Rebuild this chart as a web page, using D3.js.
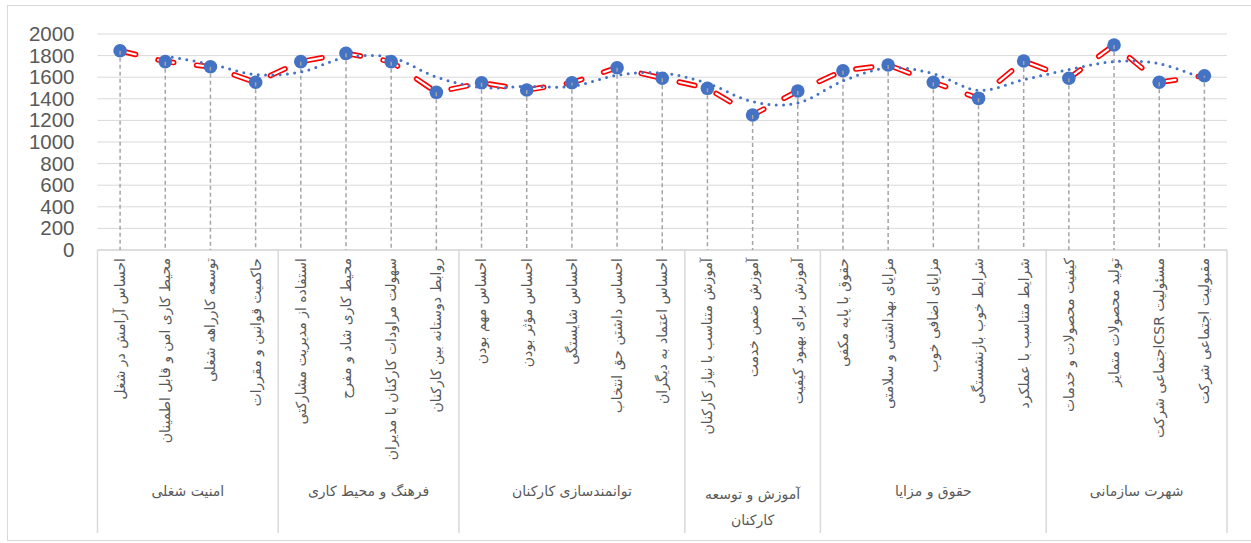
<!DOCTYPE html>
<html>
<head>
<meta charset="utf-8">
<script src="https://cdn.jsdelivr.net/npm/d3@7"></script>
<style>
  body { margin: 0; background: #fff; }
  svg { display: block; }
</style>
</head>
<body>
<div id="chart"></div>
<script>
// category groups (lower axis level) and how many items each holds
const groups = ['امنیت شغلی', 'فرهنگ و محیط کاری', 'توانمندسازی کارکنان', 'آموزش و توسعه\nکارکنان', 'حقوق و مزایا', 'شهرت سازمانی'];
const groupSizes = [4, 4, 5, 3, 5, 4];

const categories = [
  'احساس آرامش در شغل', 'محیط کاری امن و قابل اطمینان', 'توسعه کارراهه شغلی', 'حاکمیت قوانین و مقررات',
  'استفاده از مدیریت مشارکتی', 'محیط کاری شاد و مفرح', 'سهولت مراودات کارکنان با مدیران', 'روابط دوستانه بین کارکنان',
  'احساس مهم بودن', 'احساس مؤثر بودن', 'احساس شایستگی', 'احساس داشتن حق انتخاب', 'احساس اعتماد به دیگران',
  'آموزش متناسب با نیاز کارکنان', 'آموزش ضمن خدمت', 'آموزش برای بهبود کیفیت',
  'حقوق با پایه مکفی', 'مزایای بهداشتی و سلامتی', 'مزایای اضافی خوب', 'شرایط خوب بازنشستگی', 'شرایط متناسب با عملکرد',
  'کیفیت محصولات و خدمات', 'تولید محصولات متمایز', 'مسئولیت  CSRاجتماعی شرکت', 'مقبولیت اجتماعی شرکت'
];

const values = [
  1845, 1744, 1697, 1553,
  1744, 1821, 1744, 1460,
  1549, 1481, 1549, 1688, 1590,
  1497, 1250, 1472,
  1660, 1713, 1553, 1404, 1750,
  1590, 1898, 1553, 1614
];

const yTicks = [0, 200, 400, 600, 800, 1000, 1200, 1400, 1600, 1800, 2000];

const width = 1251, height = 543;
const plot = { left: 97.5, right: 1227, top: 34, bottom: 250 };
const blue = '#4472C4', grid = '#d9d9d9';

const svg = d3.select('#chart').append('svg')
  .attr('width', width)
  .attr('height', height);

// outer chart frame
svg.append('rect')
  .attr('x', 7.5).attr('y', 5.5)
  .attr('width', 1260).attr('height', 535)
  .attr('fill', 'none').attr('stroke', grid);

const x = d3.scaleBand()
  .domain(d3.range(categories.length))
  .range([plot.left, plot.right]);

const y = d3.scaleLinear()
  .domain([0, 2000])
  .range([plot.bottom, plot.top]);

const cx = i => x(i) + x.bandwidth() / 2;
// left edge of category slot i (i may equal categories.length)
const edge = i => plot.left + i * x.step();

// horizontal gridlines
svg.append('g')
  .selectAll('line')
  .data(yTicks)
  .join('line')
  .attr('x1', plot.left).attr('x2', plot.right)
  .attr('y1', d => y(d)).attr('y2', d => y(d))
  .attr('stroke', grid).attr('stroke-width', 1);

// y axis labels (no axis line)
const yAxis = svg.append('g')
  .attr('transform', `translate(${plot.left - 8},0)`)
  .call(d3.axisLeft(y).tickValues(yTicks).tickFormat(d3.format('d')).tickSize(0).tickPadding(15));
yAxis.select('.domain').remove();
yAxis.selectAll('text')
  .attr('font-family', 'Liberation Sans, Arial, sans-serif')
  .attr('font-size', '20.5px')
  .attr('fill', '#595959');

// category axis frame: baseline, group separators
const bounds = [0, ...d3.cumsum(groupSizes)];
const axisG = svg.append('g');
axisG.append('line')
  .attr('x1', plot.left).attr('x2', plot.right)
  .attr('y1', plot.bottom).attr('y2', plot.bottom)
  .attr('stroke', grid).attr('stroke-width', 1.5);
axisG.selectAll('.sep')
  .data(bounds)
  .join('line')
  .attr('class', 'sep')
  .attr('x1', d => edge(d))
  .attr('x2', d => edge(d))
  .attr('y1', plot.bottom).attr('y2', 533)
  .attr('stroke', grid).attr('stroke-width', 1.5);

// rotated category labels
svg.append('g')
  .selectAll('text')
  .data(categories)
  .join('text')
  .attr('transform', (d, i) => `translate(${cx(i)},258) rotate(-90)`)
  .attr('direction', 'rtl')
  .attr('text-anchor', 'start')
  .attr('dy', '0.35em')
  .attr('font-family', 'DejaVu Sans, sans-serif')
  .attr('font-size', '14px')
  .attr('fill', '#595959')
  .text(d => d);

// group labels
const groupLabels = svg.append('g')
  .selectAll('text')
  .data(groups)
  .join('text')
  .attr('x', (d, i) => (edge(bounds[i]) + edge(bounds[i + 1])) / 2)
  .attr('y', d => d.includes('\n') ? 499 : 496)
  .attr('direction', 'rtl')
  .attr('text-anchor', 'middle')
  .attr('font-family', 'DejaVu Sans, sans-serif')
  .attr('font-size', '14px')
  .attr('fill', '#595959');
groupLabels.each(function(d) {
  const t = d3.select(this);
  d.split('\n').forEach((line, k) => {
    t.append('tspan')
      .attr('x', t.attr('x'))
      .attr('dy', k === 0 ? 0 : 26)
      .text(line);
  });
});

// main series: red outlined dashed line
const line = d3.line()
  .x((d, i) => cx(i))
  .y(d => y(d));

svg.append('path')
  .datum(values)
  .attr('d', line)
  .attr('fill', 'none')
  .attr('stroke', '#ff0000')
  .attr('stroke-width', 5.5)
  .attr('stroke-linecap', 'round')
  .attr('stroke-dasharray', '16,23');
svg.append('path')
  .datum(values)
  .attr('d', line)
  .attr('fill', 'none')
  .attr('stroke', '#ffffff')
  .attr('stroke-width', 2.2)
  .attr('stroke-linecap', 'round')
  .attr('stroke-dasharray', '16,23');

// markers
svg.append('g')
  .selectAll('circle')
  .data(values)
  .join('circle')
  .attr('cx', (d, i) => cx(i))
  .attr('cy', d => y(d))
  .attr('r', 6.8)
  .attr('fill', blue);

// drop lines
svg.append('g')
  .selectAll('line')
  .data(values)
  .join('line')
  .attr('x1', (d, i) => cx(i)).attr('x2', (d, i) => cx(i))
  .attr('y1', d => y(d)).attr('y2', plot.bottom)
  .attr('stroke', '#a5a5a5')
  .attr('stroke-width', 1.5)
  .attr('stroke-dasharray', '4,3');

// 2-period moving average trendline
const trend = values.map((v, i) => i === 0 ? null : (v + values[i - 1]) / 2);
const trendLine = d3.line()
  .defined(d => d !== null)
  .x((d, i) => cx(i))
  .y(d => y(d))
  .curve(d3.curveCatmullRom.alpha(0));

svg.append('path')
  .datum(trend)
  .attr('d', trendLine)
  .attr('fill', 'none')
  .attr('stroke', blue)
  .attr('stroke-width', 3)
  .attr('stroke-linecap', 'round')
  .attr('stroke-dasharray', '0,7.3');
</script>
</body>
</html>
